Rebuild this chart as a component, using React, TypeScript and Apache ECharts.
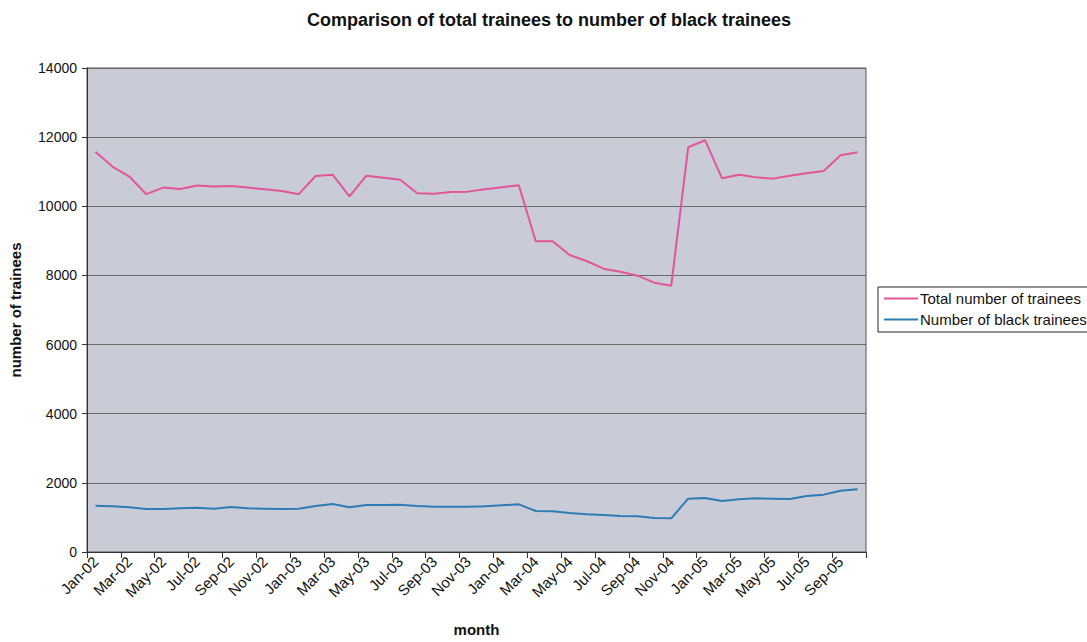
import React, { useEffect, useRef } from "react";
import * as echarts from "echarts";

const months: string[] = [
  "Jan-02", "Feb-02", "Mar-02", "Apr-02", "May-02", "Jun-02", "Jul-02", "Aug-02", "Sep-02", "Oct-02", "Nov-02", "Dec-02",
  "Jan-03", "Feb-03", "Mar-03", "Apr-03", "May-03", "Jun-03", "Jul-03", "Aug-03", "Sep-03", "Oct-03", "Nov-03", "Dec-03",
  "Jan-04", "Feb-04", "Mar-04", "Apr-04", "May-04", "Jun-04", "Jul-04", "Aug-04", "Sep-04", "Oct-04", "Nov-04", "Dec-04",
  "Jan-05", "Feb-05", "Mar-05", "Apr-05", "May-05", "Jun-05", "Jul-05", "Aug-05", "Sep-05", "Oct-05",
];

const totalTrainees: number[] = [
  11580, 11150, 10860, 10350, 10540, 10500, 10600, 10570, 10590, 10540, 10490, 10445,
  10350, 10876, 10915, 10290, 10886, 10828, 10770, 10375, 10366, 10414, 10424, 10490,
  10549, 10607, 8990, 8990, 8590, 8418, 8195, 8109, 7993, 7791, 7703, 11707,
  11909, 10810, 10915, 10838, 10800, 10886, 10954, 11021, 11475, 11562,
];

const blackTrainees: number[] = [
  1339, 1321, 1292, 1244, 1244, 1263, 1282, 1254, 1302, 1263, 1254, 1244,
  1254, 1330, 1388, 1292, 1359, 1359, 1369, 1330, 1311, 1311, 1311, 1321,
  1350, 1379, 1186, 1176, 1128, 1090, 1070, 1041, 1032, 984, 974, 1543,
  1562, 1475, 1524, 1553, 1543, 1533, 1620, 1659, 1774, 1813,
];

const seriesNames: string[] = ["Total number of trainees", "Number of black trainees"];

export default function App() {
  const ref = useRef<HTMLDivElement>(null);
  useEffect(() => {
    if (!ref.current) return;
    const chart = echarts.init(ref.current, undefined, { renderer: "svg" });
    const font = "'Liberation Sans', Arial, sans-serif";
    chart.setOption({
      animation: false,
      textStyle: { fontFamily: font, color: "#000" },
      title: {
        text: "Comparison of total trainees to number of black trainees",
        left: 544,
        textAlign: "center",
        top: 6,
        textStyle: { fontFamily: font, fontSize: 18, fontWeight: "bold", color: "#111" },
      },
      legend: {
        orient: "vertical",
        left: 878,
        top: 287,
        padding: [4, 6, 5, 6],
        itemGap: 6,
        itemWidth: 34,
        itemHeight: 2,
        icon: "rect",
        borderColor: "#222",
        borderWidth: 1,
        borderRadius: 0,
        backgroundColor: "#fff",
        data: seriesNames,
        textStyle: { fontFamily: font, fontSize: 15, color: "#111", padding: [0, 0, 0, -3] },
      },
      grid: {
        left: 87,
        top: 68,
        width: 779,
        height: 484,
        outerBoundsMode: "none",
        containLabel: false,
        show: true,
        backgroundColor: "#c9ccd6",
        borderColor: "#555",
        borderWidth: 1,
      },
      xAxis: {
        type: "category",
        data: months,
        boundaryGap: true,
        name: "month",
        nameLocation: "middle",
        nameGap: 70,
        nameTextStyle: { fontFamily: font, fontSize: 15, fontWeight: "bold", color: "#111" },
        axisLine: { lineStyle: { color: "#333", width: 1 } },
        axisTick: { show: true, interval: 1, length: 6, lineStyle: { color: "#333" } },
        axisLabel: {
          interval: 1,
          rotate: 45,
          fontFamily: font,
          fontSize: 15,
          color: "#111",
          margin: 7,
        },
        splitLine: { show: false },
      },
      yAxis: {
        type: "value",
        min: 0,
        max: 14000,
        interval: 2000,
        name: "number of trainees",
        nameLocation: "middle",
        nameGap: 64,
        nameTextStyle: { fontFamily: font, fontSize: 15, fontWeight: "bold", color: "#111" },
        axisLine: { show: true, lineStyle: { color: "#333", width: 1 } },
        axisTick: { show: true, length: 5, lineStyle: { color: "#333" } },
        axisLabel: {
          fontFamily: font,
          fontSize: 14,
          color: "#111",
          margin: 10,
          formatter: (v: number) => String(v),
        },
        splitLine: { show: true, lineStyle: { color: "#6a6a6a", width: 1.2 } },
      },
      series: [
        {
          name: seriesNames[0],
          type: "line",
          data: totalTrainees,
          symbol: "none",
          lineStyle: { color: "#e2559a", width: 2 },
          itemStyle: { color: "#e2559a" },
        },
        {
          name: seriesNames[1],
          type: "line",
          data: blackTrainees,
          symbol: "none",
          lineStyle: { color: "#2e7bb6", width: 2 },
          itemStyle: { color: "#2e7bb6" },
        },
      ],
    });
    return () => chart.dispose();
  }, []);
  return (
    <div
      ref={ref}
      style={{ position: "fixed", left: 0, top: 0, width: 1087, height: 642, background: "#fff" }}
    />
  );
}
